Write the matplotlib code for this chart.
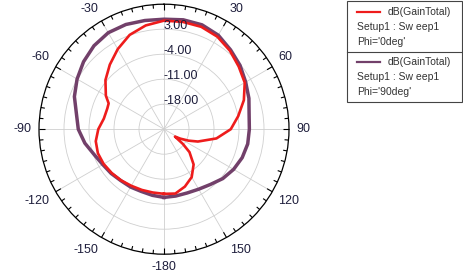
import numpy as np
import matplotlib

matplotlib.use("Agg")
import matplotlib.pyplot as plt
from matplotlib.patches import Rectangle
from matplotlib.lines import Line2D

plt.rcParams["font.family"] = ["Liberation Sans", "DejaVu Sans"]

# Phi = 90deg trace (purple), dB vs theta in degrees
purple_theta = np.arange(-180, 180, 10)
purple_db = [-5.9, -6.2, -6.45, -6.3, -6.2, -5.7, -5.2, -4.2, -2.5, -1.0,
             -0.1, 1.7, 3.1, 4.4, 5.5, 6.2, 6.2, 5.9, 5.8, 6.1,
             6.1, 5.4, 4.0, 2.8, 1.4, 0.3, -0.8, -1.1, -1.2, -1.7,
             -2.5, -3.5, -4.8, -5.6, -6.0, -6.0]

# Phi = 0deg trace (red)
red_theta = [-180, -170, -160, -150, -140, -130, -120, -110, -100, -90,
             -80, -70, -65, -60, -50, -40, -30, -20, -10, 0,
             10, 20, 30, 40, 50, 60, 70, 80, 90, 100,
             110, 115, 120, 124, 128, 132, 140, 150, 160, 170]
red_db = [-6.9, -7.0, -6.9, -6.7, -6.3, -5.9, -5.5, -5.3, -5.6, -6.6,
          -7.9, -8.1, -7.9, -6.2, -3.6, -1.4, 0.9, 3.1, 4.5, 5.4,
          5.5, 5.5, 4.9, 3.7, 2.3, 1.1, -1.2, -3.9, -6.3, -10.1,
          -14.9, -17.4, -19.7, -21.3, -18.3, -15.4, -12.1, -9.5, -7.9, -6.7]

r_ticks = [-18, -11, -4, 3]
r_labels = ["-18.00", "-11.00", "-4.00", "3.00"]
theta_labels = [30, 60, 90, 120, 150, -180, -150, -120, -90, -60, -30]

RED = "#ee1c1c"
PURPLE = "#72406a"
TXT = "#1e1e3c"
RMIN, RMAX = -25, 10

W, H = 463, 274
fig = plt.figure(figsize=(W / 100, H / 100), dpi=100)
fig.patch.set_facecolor("white")

cx, cy, R = 164, 129.2, 125
ax = fig.add_axes([(cx - R) / W, (H - cy - R) / H, 2 * R / W, 2 * R / H], projection="polar")
ax.set_theta_zero_location("N")
ax.set_theta_direction(-1)
ax.set_ylim(RMIN, RMAX)

ax.set_xticks(np.radians(np.arange(0, 360, 30)))
ax.set_xticklabels([])
ax.set_yticks(r_ticks)
ax.set_yticklabels([])
ax.tick_params(axis="both", length=0)
ax.grid(True, color="#cfcfcf", linewidth=0.6)
ax.spines["polar"].set_color("black")
ax.spines["polar"].set_linewidth(0.9)

# inward rim ticks every 5 degrees, longer every 30
px_per_db = R / (RMAX - RMIN)
for deg in range(0, 360, 5):
    length = (6 if deg % 30 == 0 else 4) / px_per_db
    th = np.radians(deg)
    ax.plot([th, th], [RMAX - length, RMAX], color="black", linewidth=0.8,
            clip_on=False, zorder=6, solid_capstyle="butt")


def closed(theta, vals):
    t = np.radians(list(theta) + [theta[0]])
    return t, list(vals) + [vals[0]]


ax.plot(*closed(purple_theta, purple_db), color=PURPLE, linewidth=2.5, zorder=3)
ax.plot(*closed(red_theta, red_db), color=RED, linewidth=1.9, zorder=4)

for rv, lab in zip(r_ticks, r_labels):
    ax.text(0, rv, lab, ha="left", va="baseline", fontsize=9, color=TXT, zorder=5)

# angle labels just outside the rim
rl = 1.056
for deg in theta_labels:
    s, c = np.sin(np.radians(deg)), np.cos(np.radians(deg))
    ha = "left" if s > 0.1 else ("right" if s < -0.1 else "center")
    va = "bottom" if c > 0.1 else ("top" if c < -0.1 else "center")
    ax.text(0.5 + 0.5 * rl * s, 0.5 + 0.5 * rl * c, str(deg), transform=ax.transAxes,
            ha=ha, va=va, fontsize=9, color=TXT)


# legend box (pixel coords converted to figure fraction)
def fx(px):
    return px / W


def fy(py):
    return 1 - py / H


edge = "#444444"
fig.add_artist(Rectangle((fx(347), fy(102)), fx(462) - fx(347), fy(1) - fy(102),
                         transform=fig.transFigure, facecolor="white", edgecolor=edge, linewidth=0.8))
fig.add_artist(Line2D([fx(347), fx(462)], [fy(51.7), fy(51.7)], transform=fig.transFigure,
                      color=edge, linewidth=0.8))

entries = [(RED, "Phi='0deg'", 0), (PURPLE, "Phi='90deg'", 50)]
for color, phi, dy in entries:
    fig.add_artist(Line2D([fx(357), fx(380)], [fy(12.3 + dy), fy(12.3 + dy)],
                          transform=fig.transFigure, color=color, linewidth=1.6))
    fig.text(fx(388), fy(12 + dy), "dB(GainTotal)", ha="left", va="center", fontsize=7.5, color="#333333")
    fig.text(fx(357), fy(27 + dy), "Setup1 : Sw eep1", ha="left", va="center", fontsize=7.5, color="#333333")
    fig.text(fx(357), fy(42 + dy), phi, ha="left", va="center", fontsize=7.5, color="#333333")

fig.savefig("out.png", dpi=100)
